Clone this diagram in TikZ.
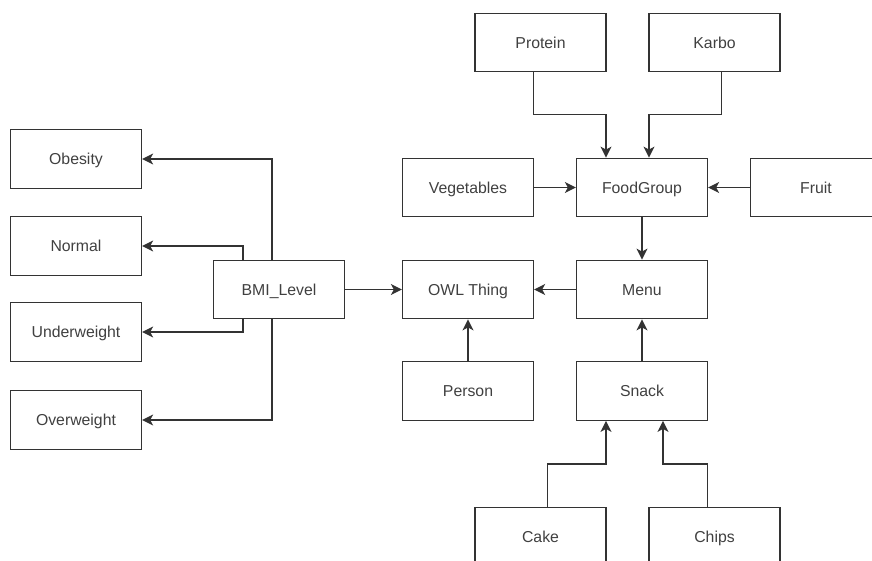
\documentclass[tikz,border=0pt]{standalone}
\usepackage{fontspec}
\setmainfont{Liberation Sans}
\usetikzlibrary{arrows.meta,calc}

\tikzset{
  classbox/.style={draw=black!80, line width=0.75pt, minimum width=2.62cm,
    minimum height=1.17cm, inner sep=0pt, text=black!75,
    text height=1.6ex, text depth=0.4ex,
    font=\fontsize{9}{11}\selectfont},
  isa/.style={draw=black!80, line width=0.75pt,
    -{Stealth[length=2.2mm,width=2.2mm,inset=0.6mm]}}
}

\begin{document}
\begin{tikzpicture}[x=0.02cm,y=-0.02cm]

\useasboundingbox (0,0) rectangle (872,561);
\clip (0,0) rectangle (872,561);

% -----------------------
% Classes BMI
% -----------------------
\node[classbox] (Obesity)     at (76,159) {Obesity};
\node[classbox] (Normal)      at (76,246) {Normal};
\node[classbox] (Underweight) at (76,332) {Underweight};
\node[classbox] (Overweight)  at (76,420) {Overweight};
\node[classbox] (BMI)         at (279,289.5) {BMI\_Level};

% -----------------------
% Classes centrales
% -----------------------
\node[classbox] (OWL)    at (468,289.5) {OWL Thing};
\node[classbox] (Person) at (468,391) {Person};
\node[classbox] (Menu)   at (642,289.5) {Menu};
\node[classbox] (Snack)  at (642,391) {Snack};

% -----------------------
% Groupes d'aliments
% -----------------------
\node[classbox] (Protein)    at (540.5,42.5) {Protein};
\node[classbox] (Karbo)      at (714.5,42.5) {Karbo};
\node[classbox] (Vegetables) at (468,187.5) {Vegetables};
\node[classbox] (FoodGroup)  at (642,187.5) {FoodGroup};
\node[classbox] (Fruit)      at (816,187.5) {Fruit};
\node[classbox] (Cake)       at (540.5,536.5) {Cake};
\node[classbox] (Chips)      at (714.5,536.5) {Chips};

% -----------------------
% Liens BMI
% -----------------------
\draw[isa] ($(BMI.north)+(-7,0)$) |- (Obesity);
\draw[isa] ($(BMI.north)+(-36,0)$) |- (Normal);
\draw[isa] ($(BMI.south)+(-36,0)$) |- (Underweight);
\draw[isa] ($(BMI.south)+(-7,0)$) |- (Overweight);
\draw[isa] (BMI) -- (OWL);

% -----------------------
% Liens centraux
% -----------------------
\draw[isa] (Menu) -- (OWL);
\draw[isa] (Person) -- (OWL);
\draw[isa] (Snack) -- (Menu);
\draw[isa] (FoodGroup) -- (Menu);
\draw[isa] (Vegetables) -- (FoodGroup);
\draw[isa] (Fruit) -- (FoodGroup);

% -----------------------
% Liens coudes
% -----------------------
\draw[isa] ($(Protein.south)+(-7,0)$) |- ($(FoodGroup.north)+(-36,-43)$)
  -- ($(FoodGroup.north)+(-36,0)$);
\draw[isa] ($(Karbo.south)+(7,0)$) |- ($(FoodGroup.north)+(7,-43)$)
  -- ($(FoodGroup.north)+(7,0)$);
\draw[isa] ($(Cake.north)+(7,0)$) |- ($(Snack.south)+(-36,43)$)
  -- ($(Snack.south)+(-36,0)$);
\draw[isa] ($(Chips.north)+(-7,0)$) |- ($(Snack.south)+(21,43)$)
  -- ($(Snack.south)+(21,0)$);

\end{tikzpicture}
\end{document}
